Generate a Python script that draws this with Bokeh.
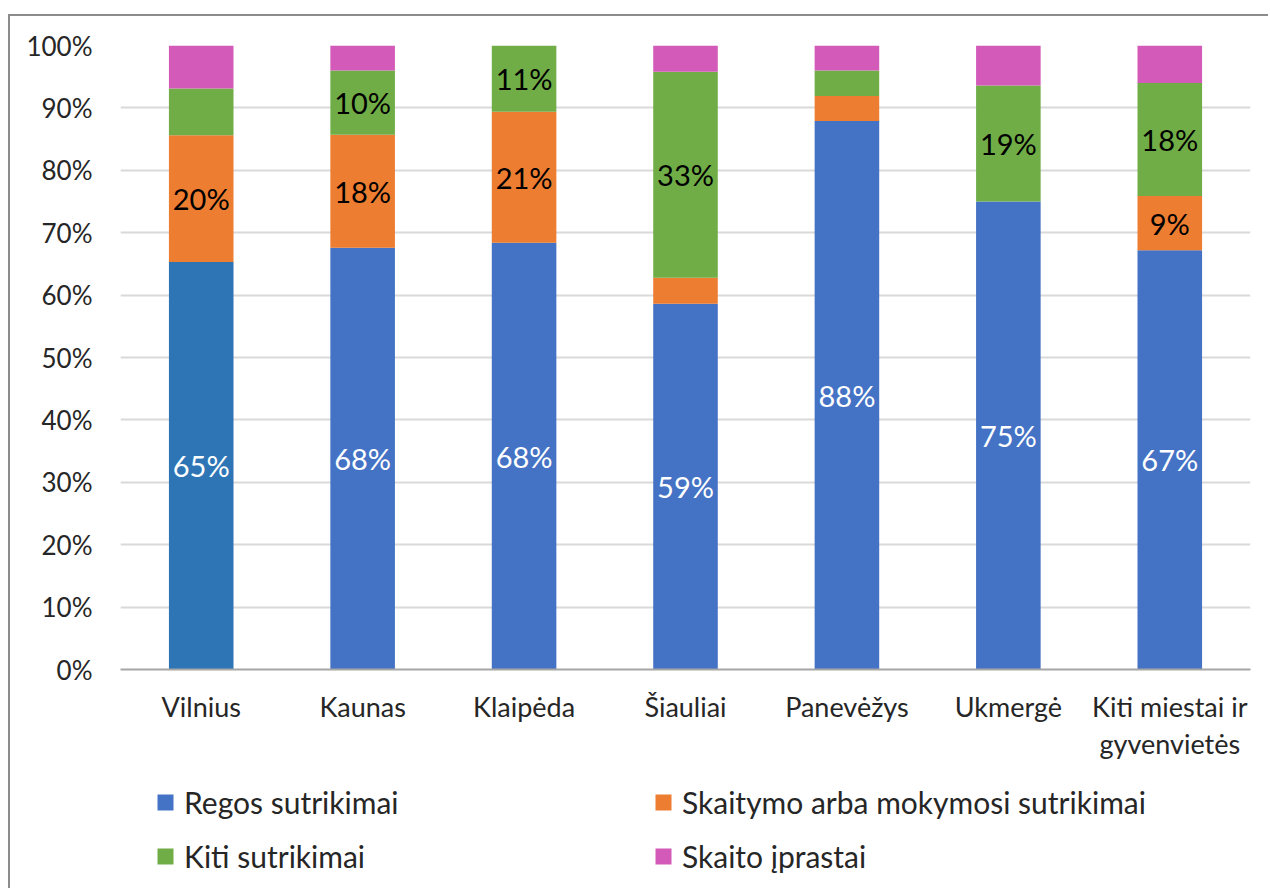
from bokeh.plotting import figure
from bokeh.models import ColumnDataSource, Legend, LegendItem, Range1d, FixedTicker
from bokeh.layouts import column
from bokeh.core.properties import value
from bokeh.embed import file_html
from bokeh.resources import INLINE
import numpy as np

categories = ["Vilnius", "Kaunas", "Klaipėda", "Šiauliai", "Panevėžys", "Ukmergė",
              "Kiti miestai ir\ngyvenvietės"]
series_names = ["Regos sutrikimai", "Skaitymo arba mokymosi sutrikimai",
                "Kiti sutrikimai", "Skaito įprastai"]
regos = [65.3, 67.6, 68.4, 58.6, 87.9, 75.0, 67.2]
skaitymo = [20.3, 18.1, 21.0, 4.2, 4.0, 0.0, 8.7]
kiti = [7.5, 10.3, 10.6, 33.0, 4.1, 18.6, 18.1]
iprastai = [6.9, 4.0, 0.0, 4.2, 4.0, 6.4, 6.0]
y_ticks = [0, 10, 20, 30, 40, 50, 60, 70, 80, 90, 100]

series_colors = ["#4472C4", "#ED7D31", "#70AD47", "#D35AB9"]
vilnius_blue = "#2E75B6"
label_colors = ["white", "black", "black", "black"]
FONT = "Lato"
TEXT = "#262626"
BORDER = "2px solid #8c8c8c"

p = figure(x_range=categories, y_range=Range1d(0, 100), width=1260, height=754,
           output_backend="svg", toolbar_location=None,
           min_border_left=110, min_border_right=20, min_border_top=29,
           min_border_bottom=101)
p.margin = (14, 0, 0, 8)
p.styles = {"border-left": BORDER, "border-top": BORDER}

series = [regos, skaitymo, kiti, iprastai]
bottom = np.zeros(len(categories))
lab_x, lab_y, lab_t, lab_c = [], [], [], []
for i, vals in enumerate(series):
    vals = np.array(vals, dtype=float)
    top = bottom + vals
    colors = [series_colors[i]] * len(categories)
    if i == 0:
        colors[0] = vilnius_blue
    src = ColumnDataSource(dict(x=categories, bottom=bottom, top=top, color=colors))
    p.vbar(x="x", bottom="bottom", top="top", width=0.4, fill_color="color",
           line_color=None, source=src)
    for j, v in enumerate(vals):
        if v >= 8:
            lab_x.append(categories[j])
            lab_y.append(bottom[j] + v / 2)
            lab_t.append(f"{int(round(v))}%")
            lab_c.append(label_colors[i])
    bottom = top

lsrc = ColumnDataSource(dict(x=lab_x, y=lab_y, t=lab_t, c=lab_c))
p.text(x="x", y="y", text="t", text_color="c", source=lsrc, text_align="center",
       text_baseline="middle", text_font=value(FONT), text_font_size="29px")

p.xgrid.grid_line_color = None
p.ygrid.grid_line_color = "#D9D9D9"
p.ygrid.grid_line_width = 2
p.yaxis.ticker = FixedTicker(ticks=y_ticks)
p.yaxis.major_label_overrides = {t: f"{t}%" for t in y_ticks}
p.yaxis.axis_line_color = None
p.yaxis.major_tick_line_color = None
p.yaxis.minor_tick_line_color = None
p.yaxis.major_tick_out = 0
p.yaxis.major_tick_in = 0
p.yaxis.major_label_standoff = 28
p.yaxis.major_label_text_font_size = "26px"
p.xaxis.axis_line_color = "#A6A6A6"
p.xaxis.axis_line_width = 2
p.xaxis.major_tick_line_color = None
p.xaxis.major_tick_out = 0
p.xaxis.major_tick_in = 0
p.xaxis.major_label_standoff = 20
p.xaxis.major_label_text_font_size = "27px"
p.xaxis.major_label_text_line_height = 1.15
for ax in (p.xaxis, p.yaxis):
    ax.major_label_text_font = FONT
    ax.major_label_text_color = TEXT
p.outline_line_color = None

# legend panel below the chart
lf = figure(width=1260, height=120, x_range=Range1d(0, 1), y_range=Range1d(0, 1),
            output_backend="svg", toolbar_location=None, min_border=0,
            x_axis_location=None, y_axis_location=None)
lf.margin = (0, 0, 0, 8)
lf.styles = {"border-left": BORDER}
lf.xgrid.grid_line_color = None
lf.ygrid.grid_line_color = None
lf.outline_line_color = None
leg_renderers = [lf.vbar(x=[np.nan], top=[np.nan], width=0.4, fill_color=c, line_color=None)
                 for c in series_colors]
items = [LegendItem(label=series_names[i], renderers=[leg_renderers[i]])
         for i in range(4)]
legend = Legend(items=items, ncols=2, orientation="horizontal", location=(35, 14),
                glyph_width=20, glyph_height=20, label_standoff=9, label_width=451,
                label_height=36, spacing=18, margin=0, padding=0,
                label_text_font=FONT, label_text_font_size="30px",
                label_text_color=TEXT, background_fill_color=None,
                background_fill_alpha=0, border_line_color=None)
lf.add_layout(legend, "center")

layout = column(p, lf, spacing=0)
open("out.html", "w").write(file_html(layout, INLINE))
